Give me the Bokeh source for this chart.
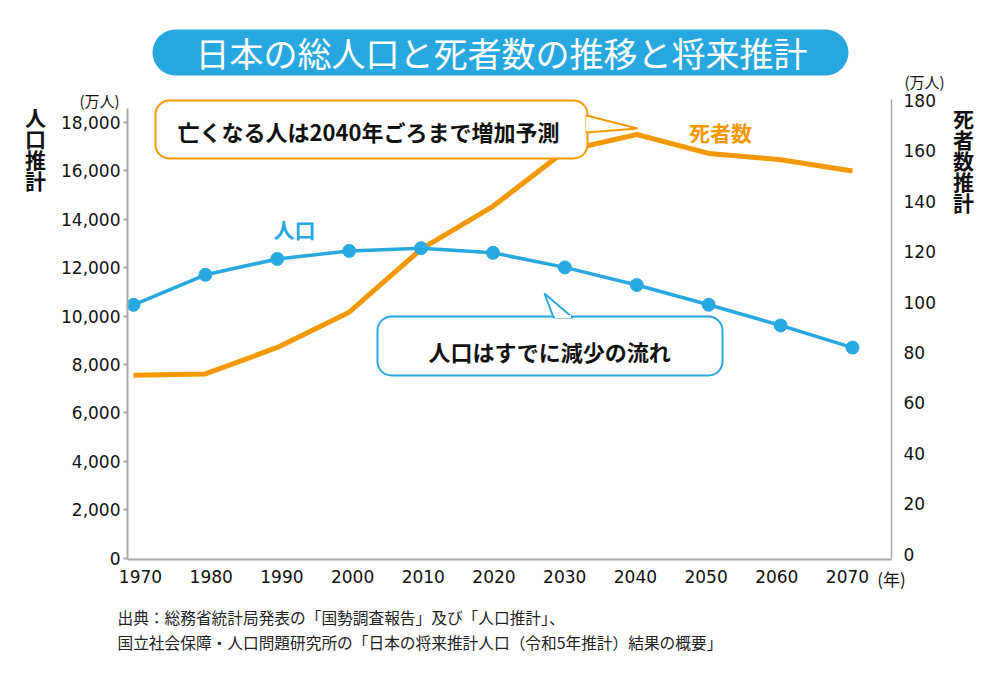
from bokeh.plotting import figure
from bokeh.models import Range1d, LinearAxis, FixedTicker, NumeralTickFormatter
from bokeh.core.properties import value
from bokeh.embed import file_html
from bokeh.resources import INLINE

# ---------------- data ----------------
years = [1970, 1980, 1990, 2000, 2010, 2020, 2030, 2040, 2050, 2060, 2070]
population = [10467, 11706, 12361, 12693, 12806, 12615, 12012, 11284, 10469, 9615, 8700]   # 万人
deaths = [71, 71.5, 82, 96, 121, 138, 160, 166.5, 159, 156.5, 152]                           # 万人
left_ticks = [0, 2000, 4000, 6000, 8000, 10000, 12000, 14000, 16000, 18000]
right_ticks = [0, 20, 40, 60, 80, 100, 120, 140, 160, 180]

title_text = "日本の総人口と死者数の推移と将来推計"
note_deaths = "亡くなる人は2040年ごろまで増加予測"
note_pop = "人口はすでに減少の流れ"
label_pop = "人口"
label_deaths = "死者数"
left_title = "人\n口\n推\n計"
right_title = "死\n者\n数\n推\n計"
unit_text = "(万人)"
year_unit = "(年)"
source_1 = "出典：総務省統計局発表の「国勢調査報告」及び「人口推計」、"
source_2 = "国立社会保障・人口問題研究所の「日本の将来推計人口（令和5年推計）結果の概要」"

# ---------------- style / geometry ----------------
FONT = "Noto Sans CJK JP"
NUMFONT = "DejaVu Sans"
BLUE = "#29a8e0"
ORANGE = "#f39800"
GREY = "#aaaaaa"
INK = "#111111"
W, H = 984, 663
PL, PR, PB = 127, 891, 559                  # axis positions in page px
X0, XS = 133, 7.19                          # data: page x of first year, px per year
XL0, XLS = 140, 7.07                        # year labels: page x of first label, px per year
YL0, YLS = 557.6, 0.0242                    # left axis: page y of 0, px per unit
YR0, YRS = 553.6, 2.52                      # right axis: page y of 0, px per unit


def dx(px):
    return years[0] + (px - X0) / XS


def lx(px):
    return years[0] + (px - XL0) / XLS


def dy(py):
    return (YL0 - py) / YLS


def dyr(py):
    return (YR0 - py) / YRS


p = figure(width=W, height=H, output_backend="svg", toolbar_location=None,
           x_range=Range1d(dx(0), dx(W)), y_range=Range1d(dy(H), dy(0)),
           min_border_left=0, min_border_right=0, min_border_top=0, min_border_bottom=0,
           x_axis_type=None)
p.title.visible = False
p.outline_line_color = None
p.xgrid.visible = False
p.ygrid.visible = False
p.background_fill_color = "white"
p.border_fill_color = "white"
p.extra_y_ranges = {"d": Range1d(dyr(H), dyr(0))}
p.extra_x_ranges = {"lab": Range1d(lx(0), lx(W))}


def style_axis(ax, size="17px"):
    ax.axis_line_color = GREY
    ax.minor_tick_line_color = None
    ax.major_label_text_font = NUMFONT
    ax.major_label_text_font_size = size
    ax.major_label_text_color = INK


# bottom axis (year labels)
xa = LinearAxis(x_range_name="lab", ticker=FixedTicker(ticks=years),
                fixed_location=dy(PB), bounds=(lx(PL), lx(PR)))
style_axis(xa)
xa.axis_line_width = 2
xa.major_tick_line_color = None
xa.major_tick_out = 0
xa.major_tick_in = 0
xa.major_label_standoff = 10
p.add_layout(xa, "below")

# left axis
ya = p.yaxis[0]
style_axis(ya)
ya.ticker = FixedTicker(ticks=left_ticks)
ya.formatter = NumeralTickFormatter(format="0,0")
ya.fixed_location = dx(PL)
ya.bounds = (dy(PB), dy(108))
ya.axis_line_width = 2
ya.major_tick_line_color = GREY
ya.major_tick_line_width = 2
ya.major_tick_out = 4
ya.major_tick_in = 0
ya.major_label_standoff = 3

# right axis
ra = LinearAxis(y_range_name="d", ticker=FixedTicker(ticks=right_ticks),
                bounds=(dyr(PB), 180.4), fixed_location=dx(PR))
style_axis(ra)
ra.axis_line_width = 1.5
ra.major_tick_line_color = None
ra.major_tick_out = 0
ra.major_tick_in = 0
ra.major_label_standoff = 12
p.add_layout(ra, "right")

# data lines
p.line(years, deaths, y_range_name="d", line_color=ORANGE, line_width=5)
p.line(years, population, line_color=BLUE, line_width=3.5)
p.scatter(years, population, size=13, fill_color=BLUE, line_color=BLUE)

# title box
p.quad(left=[dx(152)], right=[dx(848)], top=[dy(29)], bottom=[dy(75)],
       fill_color=BLUE, line_color=None, border_radius=23)


def txt(text, px, py, size, color=INK, bold=False, align="center", baseline="middle",
        font=FONT, line_height=1.2):
    p.text(x=[dx(px)], y=[dy(py)], text=[text], text_font=value(font),
           text_font_size=size, text_font_style="bold" if bold else "normal",
           text_color=color, text_align=align, text_baseline=baseline,
           text_line_height=line_height)


txt(title_text, 501, 52, "34px", color="white")

# orange callout
p.quad(left=[dx(155)], right=[dx(587)], top=[dy(100)], bottom=[dy(158)],
       fill_color="white", line_color=ORANGE, line_width=2, border_radius=14)
p.patch([dx(586), dx(637), dx(586)], [dy(115), dy(128), dy(132)],
        fill_color="white", line_color=ORANGE, line_width=2)
p.segment(x0=[dx(587)], y0=[dy(116.5)], x1=[dx(587)], y1=[dy(130.5)],
          line_color="white", line_width=3)
txt(note_deaths, 368, 130, "22px", bold=True)

# blue callout
p.quad(left=[dx(377)], right=[dx(722)], top=[dy(316)], bottom=[dy(375)],
       fill_color="white", line_color=BLUE, line_width=2, border_radius=14)
p.patch([dx(553), dx(544), dx(572)], [dy(317), dy(293), dy(317)],
        fill_color="white", line_color=BLUE, line_width=2)
p.segment(x0=[dx(554.5)], y0=[dy(316)], x1=[dx(570.5)], y1=[dy(316)],
          line_color="white", line_width=3)
txt(note_pop, 549, 350, "22px", bold=True)

# series labels
txt(label_pop, 294, 228, "21px", color=BLUE, bold=True)
txt(label_deaths, 720, 131, "21px", color=ORANGE, bold=True)

# units, axis titles, source
txt(unit_text, 99, 100, "15px")
txt(unit_text, 924, 81, "15px")
txt(year_unit, 891, 578, "17px")
txt(left_title, 35, 148, "21px", bold=True, line_height=0.7)
txt(right_title, 963, 159, "21px", bold=True, line_height=0.7)
txt(source_1, 117, 617, "15.7px", color="#222222", align="left")
txt(source_2, 117, 642, "15.7px", color="#222222", align="left")

open("out.html", "w").write(file_html(p, INLINE))
